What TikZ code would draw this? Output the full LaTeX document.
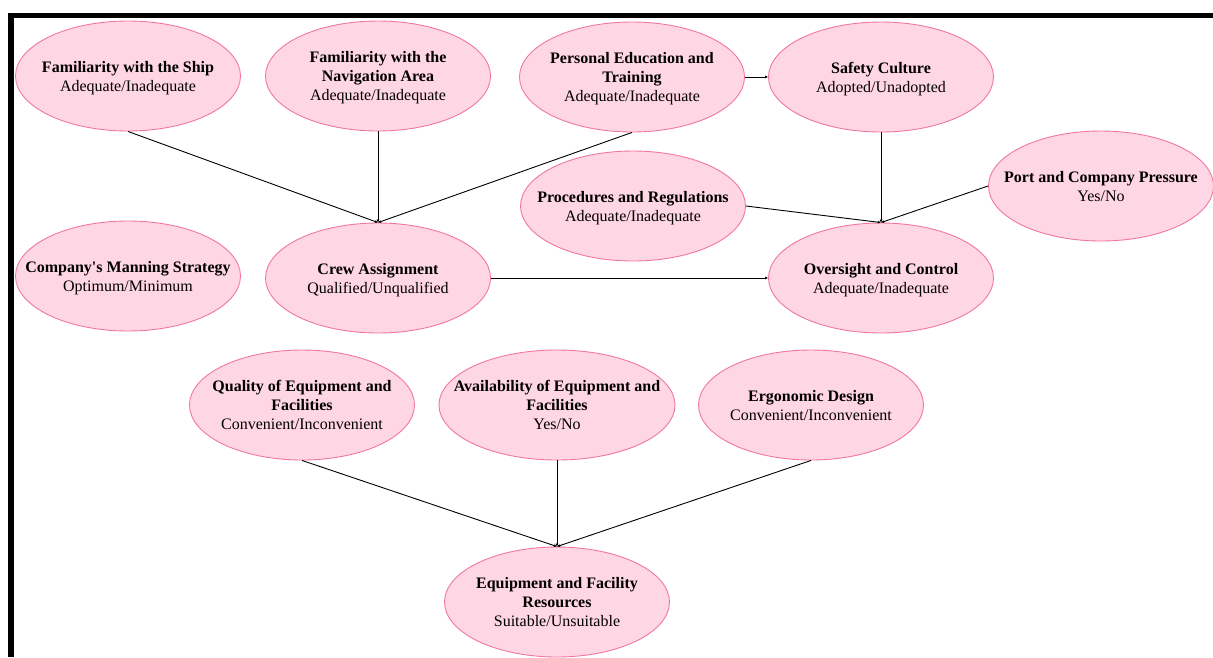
\documentclass[tikz,border=0pt]{standalone}
\usepackage{fontspec}
\setmainfont{Liberation Serif}
\usetikzlibrary{shapes.geometric,arrows.meta}
\definecolor{nodefill}{RGB}{255,214,228}
\definecolor{nodeedge}{RGB}{240,120,160}
% centred label block that does not widen its ellipse, set a little low
\newcommand\faclabel[1]{\raisebox{-2pt}[\height][\depth]{\makebox[0pt]{\begin{tabular}{@{}c@{}}#1\end{tabular}}}}
\begin{document}
\begin{tikzpicture}[x=1pt,y=-1pt,
  factor/.style={ellipse,draw=nodeedge,fill=nodefill,line width=0.9pt,
    minimum width=225pt,minimum height=110pt,inner sep=0pt,
    font=\fontsize{16}{19}\selectfont},
  link/.style={draw=black,line width=0.9pt,-{Latex[length=3pt,width=3pt]}}]
\useasboundingbox (0,0) rectangle (1213,657);
% frame lines
\fill[black] (8,13) rectangle (1213,17.5);
\fill[black] (8,13) rectangle (13.5,657);

\node[factor] (ship) at (128,76) {\faclabel{\textbf{Familiarity with the Ship}\\Adequate/Inadequate}};
\node[factor] (nav) at (378,76) {\faclabel{\textbf{Familiarity with the}\\\textbf{Navigation Area}\\Adequate/Inadequate}};
\node[factor] (pet) at (632,77) {\faclabel{\textbf{Personal Education and}\\\textbf{Training}\\Adequate/Inadequate}};
\node[factor] (safety) at (881,77) {\faclabel{\textbf{Safety Culture}\\Adopted/Unadopted}};
\node[factor] (proc) at (633,206) {\faclabel{\textbf{Procedures and Regulations}\\Adequate/Inadequate}};
\node[factor] (port) at (1101,186) {\faclabel{\textbf{Port and Company Pressure}\\Yes/No}};
\node[factor] (manning) at (128,276) {\faclabel{\textbf{Company\textquotesingle s Manning Strategy}\\Optimum/Minimum}};
\node[factor] (crew) at (378,278) {\faclabel{\textbf{Crew Assignment}\\Qualified/Unqualified}};
\node[factor] (oversight) at (881,278) {\faclabel{\textbf{Oversight and Control}\\Adequate/Inadequate}};
\node[factor] (quality) at (302,405) {\faclabel{\textbf{Quality of Equipment and}\\\textbf{Facilities}\\Convenient/Inconvenient}};
\node[factor,minimum width=236pt] (avail) at (557,405) {\faclabel{\textbf{Availability of Equipment and}\\\textbf{Facilities}\\Yes/No}};
\node[factor] (ergo) at (811,405) {\faclabel{\textbf{Ergonomic Design}\\Convenient/Inconvenient}};
\node[factor] (efr) at (557,602) {\faclabel{\textbf{Equipment and Facility}\\\textbf{Resources}\\Suitable/Unsuitable}};

\draw[link] (ship.south) -- (crew.north);
\draw[link] (nav.south) -- (crew.north);
\draw[link] (pet.south) -- (crew.north);
\draw[link] (pet.east) -- (safety.west);
\draw[link] (safety.south) -- (oversight.north);
\draw[link] (proc.east) -- (oversight.north);
\draw[link] (port.west) -- (oversight.north);
\draw[link] (crew.east) -- (oversight.west);
\draw[link] (quality.south) -- (efr.north);
\draw[link] (avail.south) -- (efr.north);
\draw[link] (ergo.south) -- (efr.north);
\end{tikzpicture}
\end{document}
